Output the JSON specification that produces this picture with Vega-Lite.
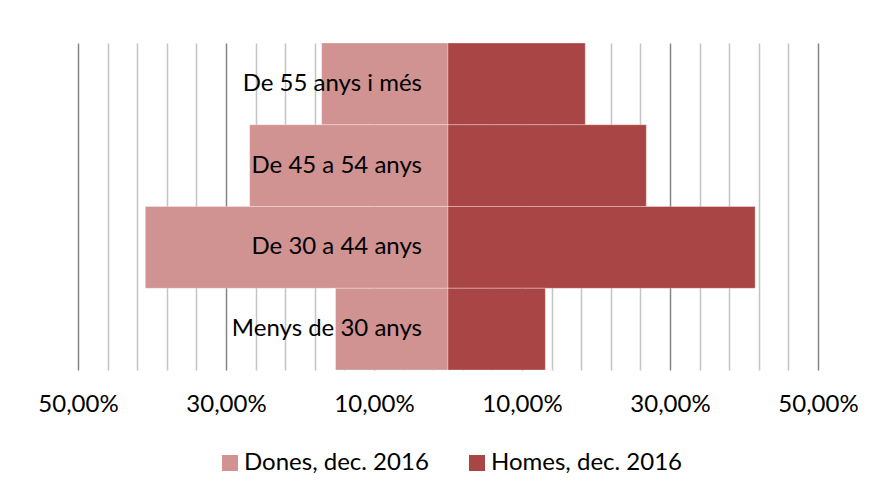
{
  "$schema": "https://vega.github.io/schema/vega-lite/v6.json",
  "width": 740,
  "height": 327,
  "autosize": "none",
  "padding": {"left": 78, "top": 43, "right": 54, "bottom": 120},
  "background": "white",
  "config": {"view": {"stroke": null}, "font": "Lato"},
  "data": {
    "values": [
      {"group": "De 55 anys i més", "sex": "Dones, dec. 2016", "value": -17.07},
      {"group": "De 45 a 54 anys", "sex": "Dones, dec. 2016", "value": -26.8},
      {"group": "De 30 a 44 anys", "sex": "Dones, dec. 2016", "value": -40.9},
      {"group": "Menys de 30 anys", "sex": "Dones, dec. 2016", "value": -15.2},
      {"group": "De 55 anys i més", "sex": "Homes, dec. 2016", "value": 18.55},
      {"group": "De 45 a 54 anys", "sex": "Homes, dec. 2016", "value": 26.8},
      {"group": "De 30 a 44 anys", "sex": "Homes, dec. 2016", "value": 41.5},
      {"group": "Menys de 30 anys", "sex": "Homes, dec. 2016", "value": 13.15}
    ]
  },
  "encoding": {
    "y": {
      "field": "group",
      "type": "nominal",
      "sort": ["De 55 anys i més", "De 45 a 54 anys", "De 30 a 44 anys", "Menys de 30 anys"],
      "scale": {"paddingInner": 0, "paddingOuter": 0},
      "axis": null
    }
  },
  "layer": [
    {
      "mark": {"type": "bar", "stroke": "white", "strokeWidth": 0.5, "strokeOpacity": 0.6},
      "encoding": {
        "x": {
          "field": "value",
          "type": "quantitative",
          "stack": null,
          "scale": {"domain": [-50, 50], "nice": false, "zero": false},
          "axis": {
            "title": null,
            "values": [-50, -46, -42, -38, -34, -30, -26, -22, -18, -14, -10, -6, -2, 2, 6, 10, 14, 18, 22, 26, 30, 34, 38, 42, 46, 50],
            "tickCount": 40,
            "labelExpr": "abs(datum.value) % 20 == 10 ? replace(format(abs(datum.value), '.2f'), '.', ',') + '%' : ''",
            "labelOverlap": false,
            "labelFontSize": 24,
            "labelColor": "#000000",
            "labelPadding": 22,
            "labelFlush": false,
            "ticks": false,
            "domain": false,
            "grid": true,
            "gridColor": {"condition": {"test": "abs(datum.value) % 20 == 10", "value": "#868686"}, "value": "#C4C4C4"},
            "gridWidth": 1.5
          }
        },
        "color": {
          "field": "sex",
          "type": "nominal",
          "scale": {"domain": ["Dones, dec. 2016", "Homes, dec. 2016"], "range": ["#D19292", "#A94544"]},
          "legend": {
            "title": null,
            "orient": "none",
            "legendX": 140,
            "legendY": 408,
            "direction": "horizontal",
            "symbolType": "square",
            "symbolSize": 256,
            "symbolStrokeWidth": 0,
            "labelFontSize": 24,
            "labelLimit": 0,
            "labelColor": "#000000",
            "columnPadding": 36,
            "labelOffset": 2
          }
        }
      }
    },
    {
      "mark": {"type": "rule", "color": "#888888", "strokeWidth": 1.5},
      "encoding": {"x": {"datum": 0}}
    },
    {
      "transform": [{"filter": "datum.sex == 'Dones, dec. 2016'"}],
      "mark": {"type": "text", "align": "right", "baseline": "middle", "dx": -26, "fontSize": 24, "color": "#000000"},
      "encoding": {
        "x": {"datum": 0},
        "text": {"field": "group"}
      }
    }
  ]
}
